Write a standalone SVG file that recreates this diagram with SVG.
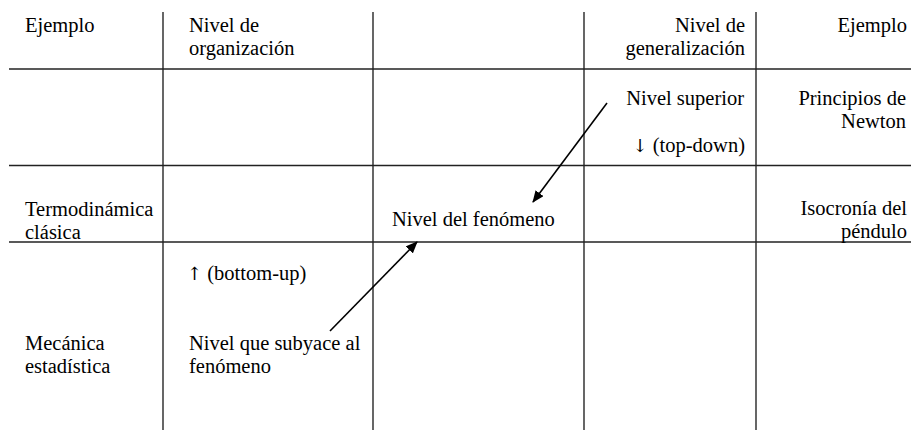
<svg xmlns="http://www.w3.org/2000/svg" width="911" height="430" viewBox="0 0 911 430">
  <style>
    .t { font-family: 'Liberation Serif', 'Times New Roman', Times, serif; font-size: 20.5px; fill: #000; }
    .r { text-anchor: end; }
    .arr { font-family: 'DejaVu Serif', 'DejaVu Sans', serif; font-size: 18px; fill: #000; }
    .grid line { stroke: #000; stroke-width: 1.2; }
    .grid .h { stroke: #222; stroke-width: 1.5; }
    .conn { stroke: #000; stroke-width: 1.6; fill: none; marker-end: url(#ah); }
  </style>
  <defs>
    <marker id="ah" viewBox="0 0 12 10" refX="11" refY="5" markerWidth="12" markerHeight="10" markerUnits="userSpaceOnUse" orient="auto">
      <path d="M0,0 L12,5 L0,10 Z" fill="#000"/>
    </marker>
  </defs>
  <rect width="911" height="430" fill="#fff"/>

  <g id="grid" class="grid">
    <line x1="163" y1="12" x2="163" y2="430"/>
    <line x1="373" y1="12" x2="373" y2="430"/>
    <line x1="584" y1="12" x2="584" y2="430"/>
    <line x1="756" y1="12" x2="756" y2="430"/>
    <line class="h" x1="9" y1="69" x2="911" y2="69"/>
    <line class="h" x1="9" y1="165.5" x2="911" y2="165.5"/>
    <line class="h" x1="9" y1="242" x2="911" y2="242"/>
  </g>

  <g class="t">
  <g id="hdr-ejemplo-left"><text x="25" y="32">Ejemplo</text></g>
  <g id="hdr-organizacion"><text x="189" y="32">Nivel de</text><text x="189" y="55">organización</text></g>
  <g id="hdr-generalizacion"><text class="r" x="745" y="32">Nivel de</text><text class="r" x="745" y="55">generalización</text></g>
  <g id="hdr-ejemplo-right"><text class="r" x="907" y="32">Ejemplo</text></g>

  <g id="nivel-superior"><text class="r" x="744" y="105">Nivel superior</text><text class="r" x="745" y="152"><tspan class="arr">↓</tspan> (top-down)</text></g>
  <g id="principios-newton"><text class="r" x="906" y="105">Principios de</text><text class="r" x="906" y="128">Newton</text></g>

  <g id="termodinamica"><text x="25" y="215.5">Termodinámica</text><text x="25" y="238.5">clásica</text></g>
  <g id="nivel-fenomeno"><text x="392" y="226">Nivel del fenómeno</text></g>
  <g id="isocronia"><text class="r" x="907" y="215">Isocronía del</text><text class="r" x="907" y="238">péndulo</text></g>

  <g id="bottom-up"><text x="187" y="280"><tspan class="arr">↑</tspan> (bottom-up)</text></g>
  <g id="mecanica"><text x="25" y="350">Mecánica</text><text x="25" y="373">estadística</text></g>
  <g id="nivel-subyace"><text x="189" y="350">Nivel que subyace al</text><text x="189" y="373">fenómeno</text></g>
  </g>

  <g id="connectors">
    <line class="conn" x1="607" y1="103" x2="533" y2="202"/>
    <line class="conn" x1="330" y1="331" x2="417" y2="242"/>
  </g>
</svg>
